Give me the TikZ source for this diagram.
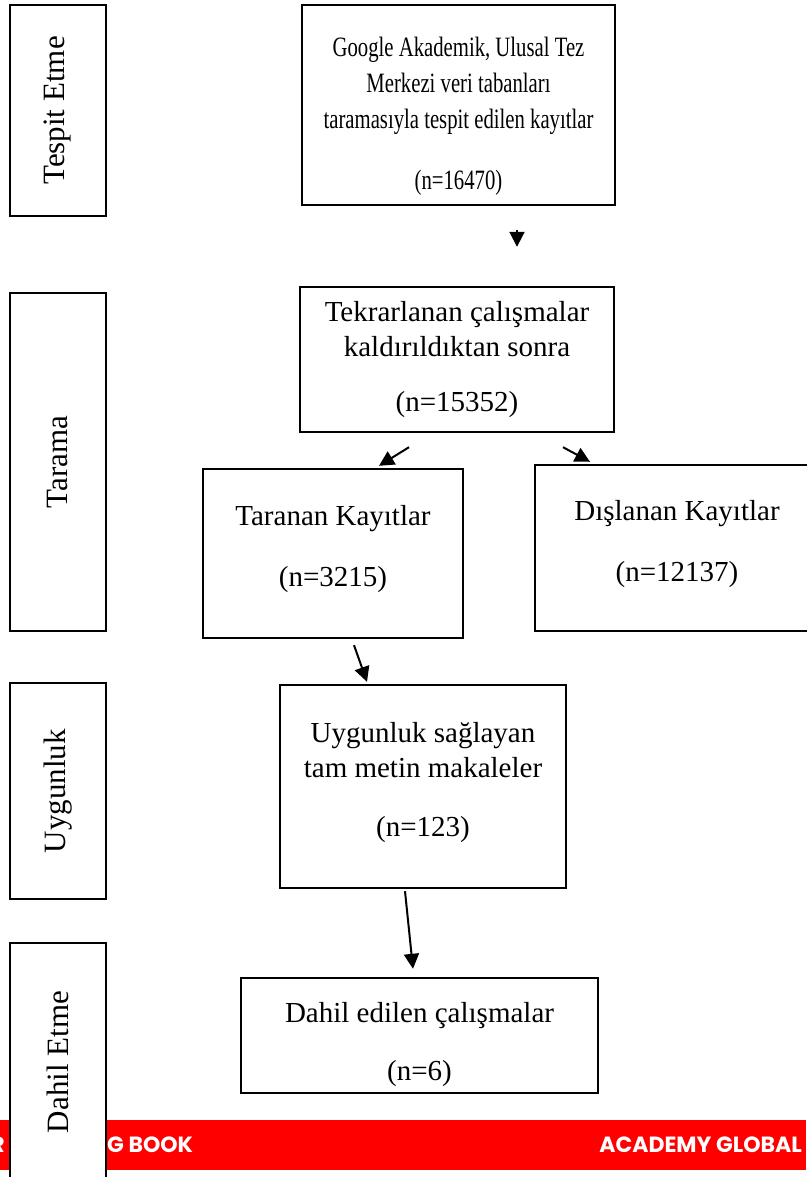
\documentclass[tikz,border=0pt]{standalone}
\usepackage{fontspec}
\setmainfont{Liberation Serif}
\newfontfamily\narrowserif{Liberation Serif}[FakeStretch=0.74]
\newfontfamily\barfont{Poppins}
\usepackage{tikz}
\usetikzlibrary{arrows.meta}

\begin{document}
\begin{tikzpicture}[
    x=1pt, y=-1pt,
    box/.style={draw, line width=2.4pt, fill=white, align=center, inner sep=0pt, font=\fontsize{29}{35}\selectfont},
    stage/.style={draw, line width=2.4pt, fill=white, rotate=90, inner sep=0pt, minimum height=96pt, font=\fontsize{31}{36}\selectfont},
    bar/.style={fill=red, inner sep=0pt, minimum width=806pt, minimum height=50pt},
    bartext/.style={text=white, inner sep=0pt, font=\barfont\bfseries\fontsize{22}{26}\selectfont},
    arrow/.style={-{Triangle[width=15pt,length=15pt]}, line width=2pt}
]
\useasboundingbox (0,0) rectangle (806,1177);

\node[bar] at (403,1145) (banner) {};
\node[bartext, anchor=east] at (5,1145) (leftword) {R};
\node[bartext, anchor=west] at (107,1145) (book) {G BOOK};
\node[bartext, anchor=east] at (802,1145) (academy) {ACADEMY GLOBAL};

\node[stage, minimum width=211pt] at (58,110.5) (identify) {Tespit Etme};
\node[stage, minimum width=338pt] at (58,462) (screening) {Tarama};
\node[stage, minimum width=216pt] at (58,791) (eligibility) {Uygunluk};
\node[stage, minimum width=238pt] at (58,1062) (inclusion) {Dahil Etme};

\node[box, minimum width=313pt, minimum height=200pt, font=\narrowserif\fontsize{28}{36}\selectfont] at (458.5,105) (search) {\rule{0pt}{41pt}Google Akademik, Ulusal Tez\\Merkezi veri tabanları\\taramasıyla tespit edilen kayıtlar\\[25pt](n=16470)};
\node[box, minimum width=314pt, minimum height=145pt] at (457,359.5) (dedup) {Tekrarlanan çalışmalar\\kaldırıldıktan sonra\\[20pt](n=15352)};
\node[box, minimum width=260pt, minimum height=169pt] at (333,553.5) (screened) {Taranan Kayıtlar\\[26pt](n=3215)\rule[-16pt]{0pt}{16pt}};
\node[box, minimum width=284pt, minimum height=166pt] at (677,548) (excluded) {Dışlanan Kayıtlar\\[26pt](n=12137)\rule[-15pt]{0pt}{15pt}};
\node[box, minimum width=286pt, minimum height=203pt] at (423,786.5) (eligible) {Uygunluk sağlayan\\tam metin makaleler\\[24pt](n=123)\rule[-14pt]{0pt}{14pt}};
\node[box, minimum width=357pt, minimum height=115pt] at (419.5,1035.5) (included) {\rule{0pt}{39pt}Dahil edilen çalışmalar\\[23pt](n=6)};

\draw[arrow] ([xshift=58.5pt,yshift=-24pt]search.south) -- ([xshift=60pt,yshift=39pt]dedup.north);
\draw[arrow] ([xshift=-48pt,yshift=-14pt]dedup.south) -- ([xshift=46pt,yshift=2pt]screened.north);
\draw[arrow] ([xshift=106pt,yshift=-14pt]dedup.south) -- ([xshift=-87pt,yshift=2pt]excluded.north);
\draw[arrow] ([xshift=21pt,yshift=-6pt]screened.south) -- ([xshift=-56pt,yshift=2pt]eligible.north);
\draw[arrow] ([xshift=-18pt,yshift=-2pt]eligible.south) -- ([xshift=-6.5pt,yshift=8pt]included.north);
\end{tikzpicture}
\end{document}
